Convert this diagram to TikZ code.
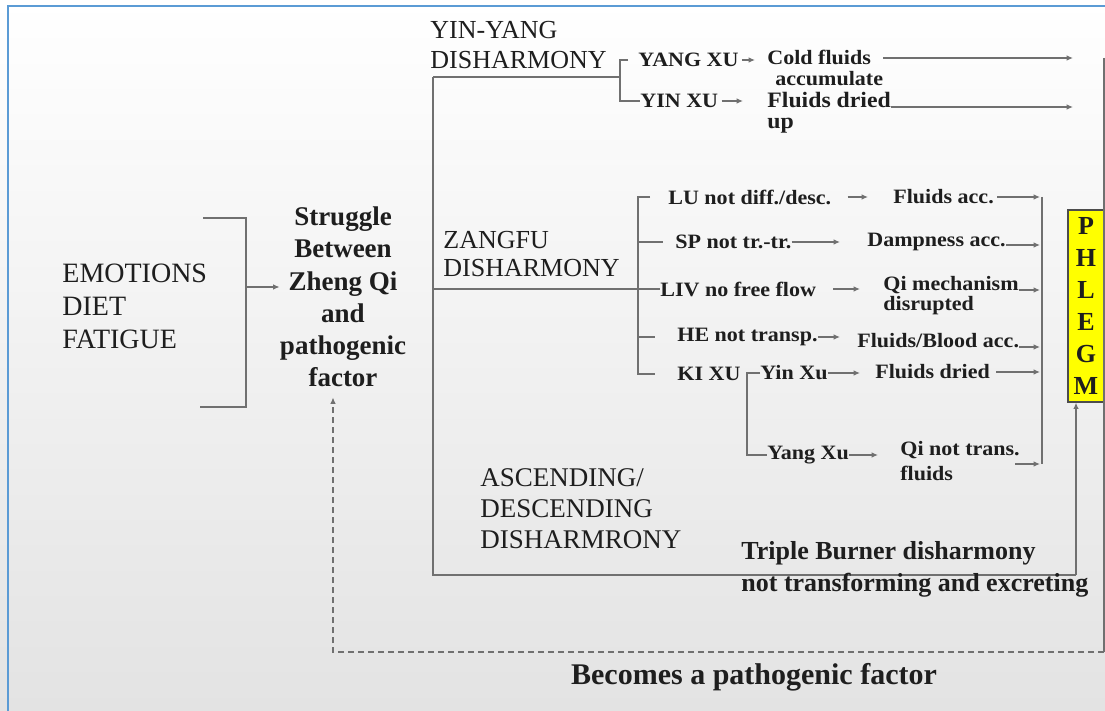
\documentclass[tikz,border=0pt]{standalone}
\usepackage{fontspec}
\setmainfont{Liberation Serif}
\newfontfamily\lblfont[FakeStretch=1.08]{Liberation Serif}
\usetikzlibrary{arrows.meta}
\definecolor{lncol}{HTML}{707070}
\definecolor{frameblue}{HTML}{5B9BD5}
\definecolor{txt}{HTML}{1E1E1E}
\definecolor{phy}{HTML}{FFFF00}
\begin{document}
\begin{tikzpicture}[x=0.5pt,y=-0.5pt,
  every node/.style={text=txt},
  conn/.style={draw=lncol, line width=0.75pt},
  arr/.style={conn, -{Latex[length=3.2pt,width=2.8pt]}},
  fbk/.style={conn, dash pattern=on 3pt off 2pt, -{Latex[length=3.2pt,width=2.8pt]}},
  lbl/.style={inner sep=0pt, anchor=west, font=\lblfont\bfseries\fontsize{10.2}{11}\selectfont},
  lblb/.style={inner sep=0pt, anchor=west, font=\lblfont\bfseries\fontsize{11}{12}\selectfont},
  head/.style={inner sep=0pt, anchor=west, align=left},
]
% background and frame
\shade[top color=white, middle color=black!4, bottom color=black!11] (0,0) rectangle (1105,711);
\useasboundingbox (0,0) rectangle (1105,711);
\draw[frameblue, line width=1.2pt] (8,711) -- (8,6) -- (1105,6);

% left part
\node[head, font=\fontsize{14}{16.5}\selectfont] (emo) at (62,306) {EMOTIONS\\DIET\\FATIGUE};
\coordinate (bt1) at (203,218);
\coordinate (bt2) at (246,218);
\coordinate (bb2) at (246,407);
\coordinate (bb1) at (200,407);
\draw[conn] (bt1) -- (bt2) -- (bb2) -- (bb1);
\node[inner sep=0pt, align=center, font=\bfseries\fontsize{13.5}{16.1}\selectfont] (strug) at (343,297)
  {Struggle\\Between\\Zheng Qi\\and\\pathogenic\\factor};
\coordinate (bm) at (246,287);
\draw[arr] (bm) -- (bm -| strug.west);

% PHLEGM
\node[draw=black!70, fill=phy, line width=0.6pt, minimum width=18pt, minimum height=96pt,
  inner sep=0pt, align=center, font=\bfseries\fontsize{13}{16}\selectfont] (phl) at (1086,306)
  {P\\H\\L\\E\\G\\M};

% trunk
\coordinate (tT) at (433,77);
\coordinate (tB) at (433,575);
\coordinate (tR) at (1076,575);
\draw[conn] (tT) -- (tB) -- (tR);
\draw[arr] (tR) -- (tR |- phl.south);

% YIN-YANG branch
\node[head, font=\fontsize{13}{15}\selectfont] (yy) at (430,45) {YIN-YANG\\DISHARMONY};
\node[lbl] (yangxu) at (638,60) {YANG XU};
\node[lbl] (yinxu) at (640,101) {YIN XU};
\node[lbl] (cold) at (767,57) {Cold fluids};
\node[lbl] (accum) at (775,79) {accumulate};
\node[lblb] (fdry) at (767,100) {Fluids dried};
\node[lblb] (up) at (767,126) {up};
\coordinate (yym) at (620,77);
\coordinate (yyt) at (620,60);
\coordinate (yytt) at (628,60);
\coordinate (yyb) at (620,101);
\coordinate (rtip) at (1073,0);
\draw[conn] (tT) -- (yym);
\draw[conn] (yytt) -- (yyt) -- (yyb) -- (yinxu.west);
\draw[arr, shorten <=1.5pt, shorten >=6pt] (yangxu.east) -- (yangxu.east -| cold.west);
\draw[arr, shorten <=1.5pt, shorten >=12pt] (yinxu.east) -- (yinxu.east -| fdry.west);
\draw[arr, shorten <=6pt] ([yshift=-0.5pt]cold.east) -- ([yshift=-0.5pt]cold.east -| rtip);
\draw[arr] ([yshift=-3.5pt]fdry.east) -- ([yshift=-3.5pt]fdry.east -| rtip);

% ZANGFU branch
\node[head, font=\fontsize{13}{14}\selectfont] (zang) at (443,254) {ZANGFU\\DISHARMONY};
\node[lbl] (lu) at (668,197) {LU not diff./desc.};
\node[lbl] (facc) at (893,197) {Fluids acc.};
\node[lbl] (sp) at (675,242) {SP not tr.-tr.};
\node[lbl] (damp) at (867,242) {Dampness acc.};
\node[lbl] (liv) at (660,289) {LIV no free flow};
\node[lbl] (qimech) at (883,285) {Qi mechanism};
\node[lbl] (disr) at (883,306) {disrupted};
\node[lbl] (he) at (677,337) {HE not transp.};
\node[lbl] (fblood) at (857,341) {Fluids/Blood acc.};
\node[lbl] (kixu) at (677,374) {KI XU};
\node[lbl] (kyin) at (760,373) {Yin Xu};
\node[lbl] (fdry2) at (875,372) {Fluids dried};
\node[lbl] (kyang) at (767,455) {Yang Xu};
\node[lbl] (qinot) at (900,450) {Qi not trans.};
\node[lbl] (fl2) at (900,473) {fluids};

\coordinate (zj) at (433,289);
\coordinate (zt) at (638,197);
\coordinate (zb) at (638,374);
\draw[conn] (zj) -- (liv.west);
\draw[conn] ([xshift=-9pt]lu.west) -- (zt) -- (zb) -- ([xshift=-11pt]kixu.west);
\draw[conn] (zt |- sp.west) -- ([xshift=-6pt]sp.west);
\draw[conn] (zt |- he.west) -- ([xshift=-11pt]he.west);

\coordinate (kt) at (747,373);
\coordinate (kb) at (747,455);
\draw[conn] (kyin.west) -- (kt) -- (kb) -- (kyang.west);

\coordinate (rbt) at (1042,197);
\coordinate (rbb) at (1042,464);
\draw[conn] (rbt) -- (rbb);

\draw[arr, shorten <=8pt, shorten >=12.5pt] (lu.east) -- (facc.west);
\draw[arr, shorten >=13.5pt] (sp.east) -- (sp.east -| damp.west);
\draw[arr, shorten <=8.5pt, shorten >=11.5pt] (liv.east) -- (liv.east -| qimech.west);
\draw[arr, shorten >=8.5pt] (he.east) -- (he.east -| fblood.west);
\draw[arr, shorten >=7.5pt] (kyin.east) -- (kyin.east -| fdry2.west);
\draw[arr, shorten >=11pt] (kyang.east) -- (kyang.east -| qinot.west);

\draw[arr, shorten <=1.5pt, shorten >=1pt] (facc.east) -- (facc.east -| rbt);
\draw[arr, shorten >=1pt] ([yshift=-1.5pt]damp.east) -- ([yshift=-1.5pt]damp.east -| rbt);
\draw[arr, shorten >=1pt] ([yshift=-2.5pt]qimech.east) -- ([yshift=-2.5pt]qimech.east -| rbt);
\draw[arr, shorten >=1pt] ([yshift=-3pt]fblood.east) -- ([yshift=-3pt]fblood.east -| rbt);
\draw[arr, shorten <=3pt, shorten >=1pt] (fdry2.east) -- (fdry2.east -| rbt);
\coordinate (qa) at (1015,464);
\draw[arr, shorten >=1pt] (qa) -- (qa -| rbt);

% ascending / descending
\node[head, font=\fontsize{13.5}{15.5}\selectfont] (asc) at (480,509) {ASCENDING/\\DESCENDING\\DISHARMRONY};
\node[head, font=\bfseries\fontsize{13}{16}\selectfont] (tb) at (741,569)
  {Triple Burner disharmony\\not transforming and excreting};

% feedback loop
\coordinate (rt) at (1104,58);
\coordinate (rb) at (1104,652);
\coordinate (lb) at (333,652);
\draw[conn] (rt) -- (rb);
\draw[fbk, shorten >=5pt] (rb) -- (lb) -- (lb |- strug.south);
\node[font=\bfseries\fontsize{15}{18}\selectfont, inner sep=0pt] (bec) at (754,677) {Becomes a pathogenic factor};
\end{tikzpicture}
\end{document}
